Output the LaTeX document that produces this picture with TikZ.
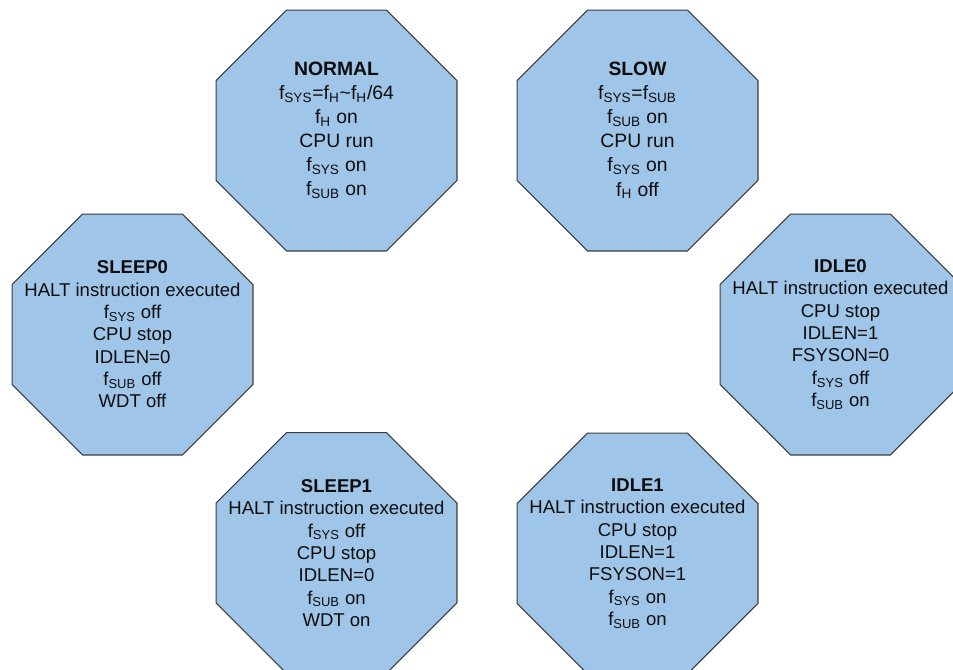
\documentclass[tikz,border=0pt]{standalone}
\usepackage{fontspec}
\setmainfont{Liberation Sans}
\usetikzlibrary{shapes.geometric,positioning}

\definecolor{statefill}{HTML}{9FC5E8}
\definecolor{stateline}{HTML}{3C3C3C}
\newcommand{\clk}[1]{f\textsubscript{#1}}

\begin{document}
\begin{tikzpicture}[node distance=6cm, on grid,
    mode/.style={regular polygon, regular polygon sides=8, minimum size=5.216cm, inner sep=0pt,
                 draw=stateline, fill=statefill, line width=0.6pt},
    haltinfo/.style={align=center, text=black!95, font=\fontsize{10.55}{12.7}\selectfont},
    runinfo/.style={haltinfo, font=\fontsize{11}{13.7}\selectfont}]
    \useasboundingbox (0,0) rectangle (19.06,-13.38);

    \node[mode, label={[runinfo]center:{\textbf{NORMAL}\\\clk{SYS}=\clk{H}\textasciitilde\clk{H}/64\\\clk{H} on\\CPU run\\\clk{SYS} on\\\clk{SUB} on}}]
          (normal) at (6.73,-2.61) {};
    \node[mode, label={[runinfo]center:{\textbf{SLOW}\\\clk{SYS}=\clk{SUB}\\\clk{SUB} on\\CPU run\\\clk{SYS} on\\\clk{H} off}}]
          (slow)   [right=6.02 of normal] {};
    \node[mode, label={[haltinfo]center:{\textbf{SLEEP0}\\HALT instruction executed\\\clk{SYS} off\\CPU stop\\IDLEN=0\\\clk{SUB} off\\WDT off}}]
          (sleep0) [below left=4.08 and 4.08 of normal] {};
    \node[mode, label={[haltinfo]center:{\textbf{IDLE0}\\HALT instruction executed\\CPU stop\\IDLEN=1\\FSYSON=0\\\clk{SYS} off\\\clk{SUB} on}}]
          (idle0)  [below right=4.08 and 4.06 of slow] {};
    \node[mode, label={[haltinfo]center:{\textbf{SLEEP1}\\HALT instruction executed\\\clk{SYS} off\\CPU stop\\IDLEN=0\\\clk{SUB} on\\WDT on}}]
          (sleep1) [below=8.45 of normal] {};
    \node[mode, label={[haltinfo]center:{\textbf{IDLE1}\\HALT instruction executed\\CPU stop\\IDLEN=1\\FSYSON=1\\\clk{SYS} on\\\clk{SUB} on}}]
          (idle1)  [below=8.46 of slow] {};
\end{tikzpicture}
\end{document}
